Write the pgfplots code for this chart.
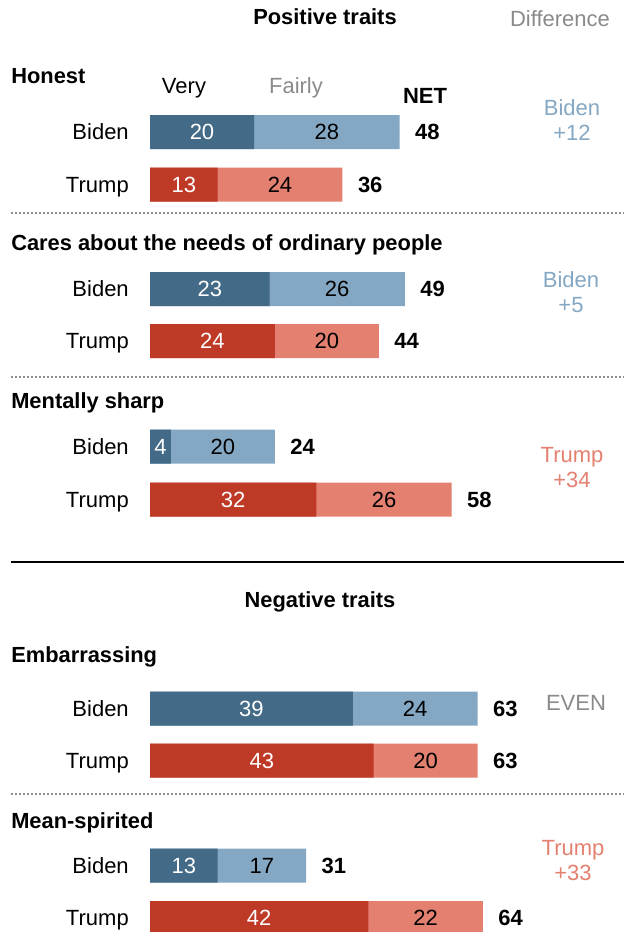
\documentclass[border=0pt]{standalone}
\usepackage{fontspec}
\setmainfont{Liberation Sans}
\usepackage{pgfplots}
\pgfplotsset{compat=1.18}
\usepackage{pgfplotstable}
\definecolor{dblue}{HTML}{436A86}
\definecolor{lblue}{HTML}{84A8C3}
\definecolor{dred}{HTML}{BE3A27}
\definecolor{lred}{HTML}{E48070}
\definecolor{tgray}{HTML}{8A8A8A}
\definecolor{dotgray}{HTML}{8F8F8F}
\newcommand\fs{\fontsize{16.5pt}{18.75pt}\selectfont}
\newcommand\hb{\fontsize{16.4pt}{19pt}\selectfont\bfseries}

\pgfplotstableread{
y     very fairly net
132   20   28  48
289   23   26  49
446.5 4    20  24
708.5 39   24  63
865.5 13   17  31
}\biden
\pgfplotstableread{
y     very fairly net
184.5 13   24  36
341   24   20  44
499.5 32   26  58
760.5 43   20  63
918   42   22  64
}\trump

\pgfplotsset{
  base/.style={width=468pt, height=699pt, scale only axis,
    xmin=-28.846, xmax=91.154, ymin=0, ymax=932, y dir=reverse,
    axis lines=none, clip=false, anchor=south west, at={(0pt,0pt)}},
  bars/.style={xbar, bar width=34, bar shift=0pt, draw=none},
  lab/.style={only marks, mark=*, mark size=0pt, mark options={draw=none,fill=none},
    nodes near coords, point meta=explicit symbolic, nodes near coords align={center},
    every node near coord/.append style={anchor=center, inner sep=0pt, text depth=0pt, font=\fs, text=#1}},
  netlab/.style={only marks, mark=*, mark size=0pt, mark options={draw=none,fill=none},
    nodes near coords, point meta=explicit symbolic, nodes near coords align={center},
    every node near coord/.append style={anchor=west, inner sep=0pt, text depth=0pt, xshift=11.5pt, font=\fs\bfseries, text=black}},
}

\begin{document}
\begin{tikzpicture}
\begin{axis}[base]
  \addplot[bars, fill=lblue] table[x expr=\thisrow{very}+\thisrow{fairly}, y=y]{\biden};
  \addplot[bars, fill=dblue] table[x=very, y=y]{\biden};
  \addplot[lab=white] table[x expr=\thisrow{very}/2, y=y, meta=very]{\biden};
  \addplot[lab=black] table[x expr=\thisrow{very}+\thisrow{fairly}/2, y=y, meta=fairly]{\biden};
  \addplot[netlab] table[x expr=\thisrow{very}+\thisrow{fairly}, y=y, meta=net]{\biden};
\end{axis}
\begin{axis}[base]
  \addplot[bars, fill=lred] table[x expr=\thisrow{very}+\thisrow{fairly}, y=y]{\trump};
  \addplot[bars, fill=dred] table[x=very, y=y]{\trump};
  \addplot[lab=white] table[x expr=\thisrow{very}/2, y=y, meta=very]{\trump};
  \addplot[lab=black] table[x expr=\thisrow{very}+\thisrow{fairly}/2, y=y, meta=fairly]{\trump};
  \addplot[netlab] table[x expr=\thisrow{very}+\thisrow{fairly}, y=y, meta=net]{\trump};
\end{axis}
\begin{scope}[x=0.75pt, y=-0.75pt, shift={(0pt,699pt)}, every node/.style={inner sep=0pt, font=\fs}]
  % titles
  \node[font=\hb] at (325,17) {Positive traits};
  \node[text=tgray] at (560,19) {Difference};
  \node[font=\hb] at (320,602) {Negative traits};
  % headings
  \node[anchor=west, font=\hb] at (11,76) {Honest};
  \node[anchor=west, font=\hb] at (11,245) {Cares about the needs of ordinary people};
  \node[anchor=west, font=\hb] at (11,403) {Mentally sharp};
  \node[anchor=west, font=\hb] at (11,657) {Embarrassing};
  \node[anchor=west, font=\hb] at (11,823) {Mean-spirited};
  % column headers
  \node at (184,88) {Very};
  \node[text=tgray] at (296,88) {Fairly};
  \node[font=\fs\bfseries] at (425,96) {NET};
  % party labels
  \foreach \y in {132,289,446.5,708.5,865.5} {\node[anchor=east, text depth=0pt] at (129,\y) {Biden};}
  \foreach \y in {184.5,341,499.5,760.5,918} {\node[anchor=east, text depth=0pt] at (129,\y) {Trump};}
  % differences
  \node[align=center, text=lblue] at (572,120.5) {Biden\\+12};
  \node[align=center, text=lblue] at (571,292) {Biden\\+5};
  \node[align=center, text=lred] at (572,468) {Trump\\+34};
  \node[text=tgray] at (576,703) {EVEN};
  \node[align=center, text=lred] at (573,860.5) {Trump\\+33};
  % separators
  \foreach \y in {213,377,794} {\draw[dotgray, line width=1.4pt, dash pattern=on 1.4pt off 1.6pt] (11,\y) -- (624,\y);}
  \draw[black, line width=2pt] (11,562) -- (624,562);
\end{scope}
\pgfresetboundingbox
\path[use as bounding box] (0pt,0pt) rectangle (468pt,699pt);
\end{tikzpicture}
\end{document}
